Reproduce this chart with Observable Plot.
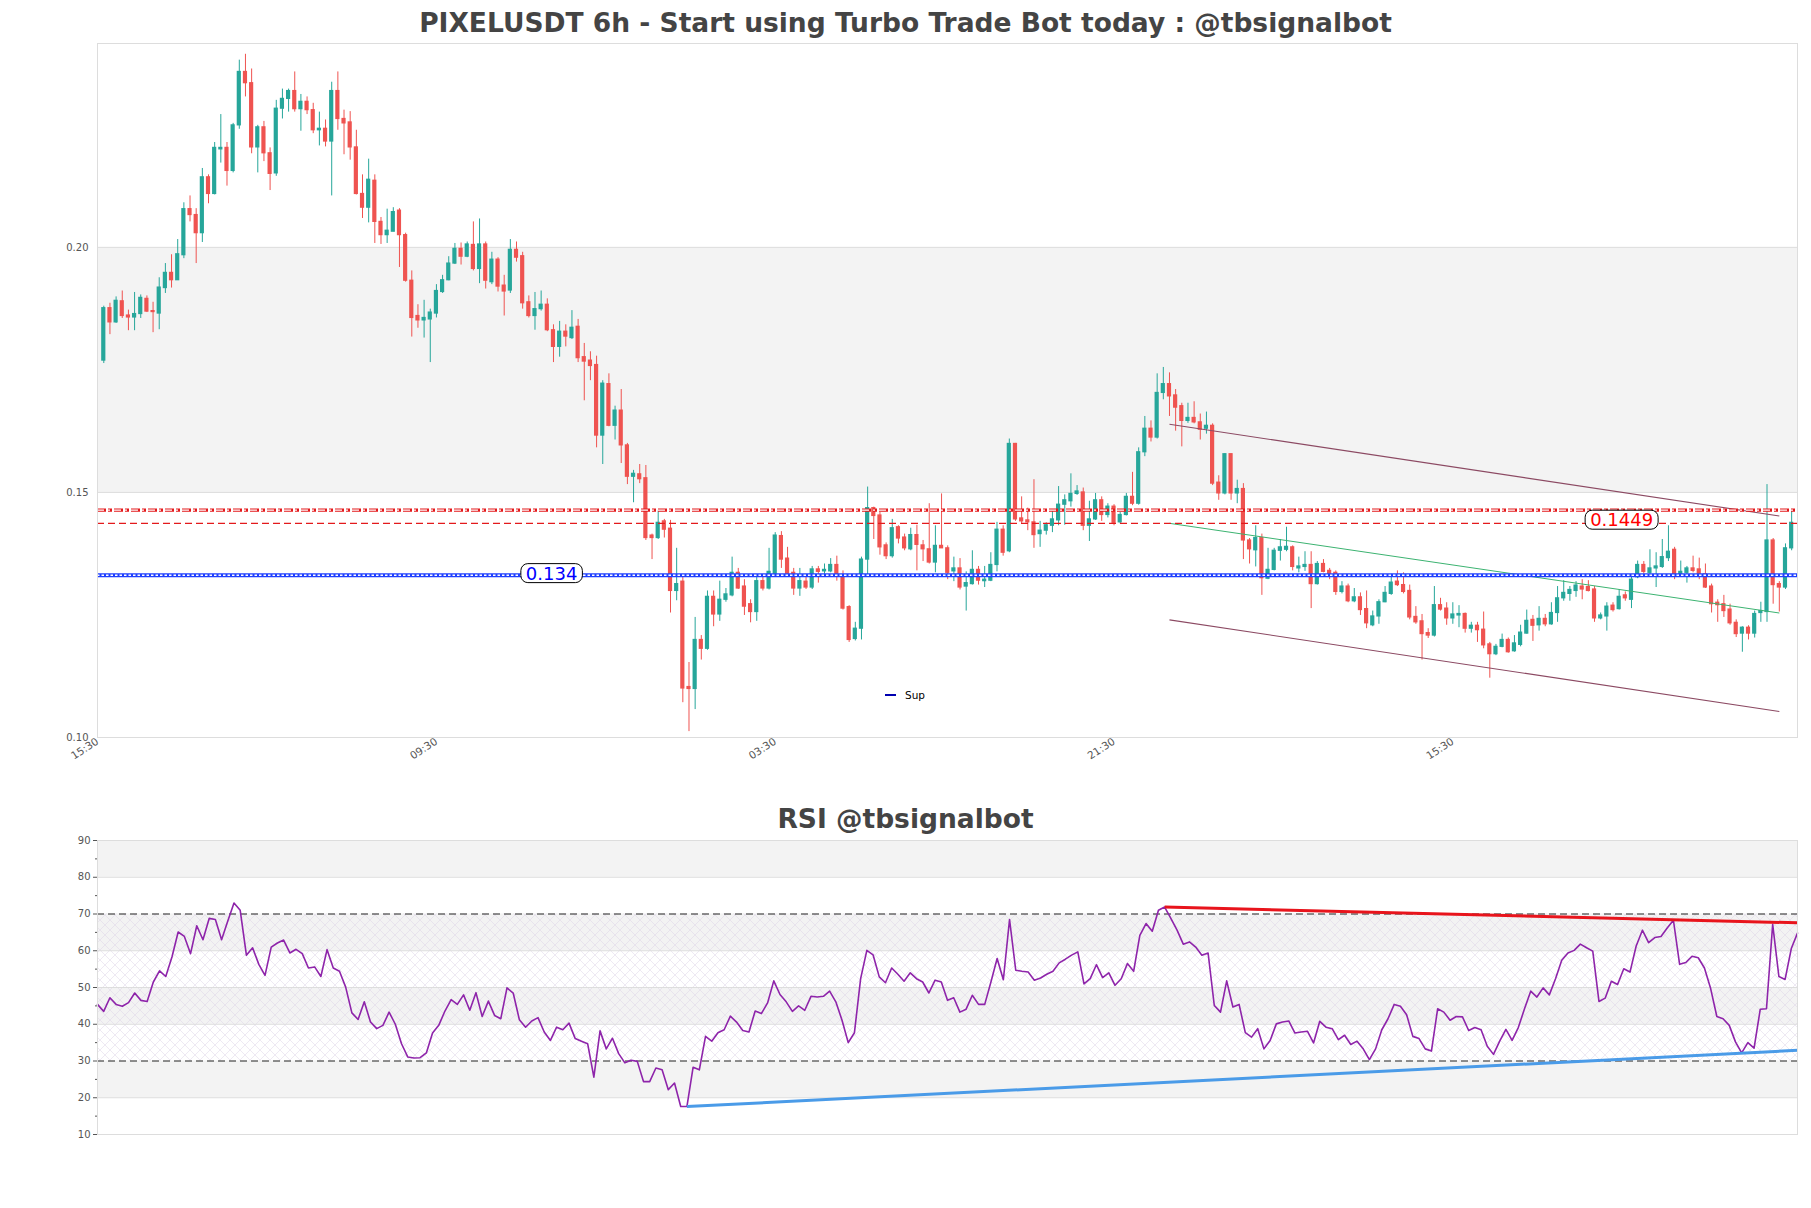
<!DOCTYPE html>
<html>
<head>
<meta charset="utf-8">
<script src="https://cdn.jsdelivr.net/npm/d3@7"></script>
<script src="https://cdn.jsdelivr.net/npm/@observablehq/plot@0.6"></script>
<style>
body{margin:0;background:#fff;}
#wrap{position:relative;width:1811px;height:1208px;overflow:hidden;background:#fff;font-family:"DejaVu Sans",sans-serif;}
.title{position:absolute;left:0;width:1811px;text-align:center;font-family:"DejaVu Sans",sans-serif;font-weight:bold;font-size:26.5px;line-height:31px;color:#444;white-space:nowrap;}
.chart{position:absolute;left:0;}
svg{overflow:visible;}
#legend{position:absolute;left:885px;top:689px;font-family:"DejaVu Sans",sans-serif;font-size:10.5px;color:#000;display:flex;align-items:center;}
#legend .sw{display:inline-block;width:11px;height:2px;background:#0000b0;margin-right:9px;}
</style>
</head>
<body>
<div id="wrap">
  <div class="title" id="t1" style="top:7px">PIXELUSDT 6h - Start using Turbo Trade Bot today : @tbsignalbot</div>
  <div class="chart" id="main" style="top:33px"></div>
  <div class="title" id="t2" style="top:803px">RSI @tbsignalbot</div>
  <div class="chart" id="rsi" style="top:830px"></div>
  <div id="legend"><span class="sw"></span><span>Sup</span></div>
</div>
<script>
// ---------------- data ----------------
const opens = [.1769,.1876,.1847,.1890,.1861,.1857,.1864,.1895,.1870,.1865,.1917,.1948,.1933,.1984,.2078,.2066,.2029,.2143,.2109,.2200,.2203,.2156,.2249,.2358,.2335,.2204,.2245,.2192,.2151,.2283,.2303,.2319,.2282,.2297,.2280,.2239,.2242,.2216,.2319,.2262,.2255,.2204,.2109,.2081,.2136,.2052,.2025,.2032,.2075,.2025,.1932,.1860,.1851,.1853,.1865,.1909,.1933,.1967,.1997,.1981,.2005,.1956,.2006,.1929,.1975,.1922,.1912,.1995,.1982,.1888,.1860,.1874,.1883,.1831,.1797,.1828,.1815,.1838,.1776,.1769,.1760,.1616,.1721,.1636,.1667,.1596,.1532,.1537,.1529,.1412,.1407,.1441,.1426,.1299,.1318,.1103,.1099,.1199,.1181,.1287,.1251,.1281,.1290,.1336,.1308,.1272,.1256,.1319,.1304,.1334,.1411,.1365,.1336,.1304,.1318,.1306,.1343,.1339,.1339,.1352,.1331,.1266,.1201,.1222,.1363,.1468,.1453,.1392,.1370,.1429,.1408,.1384,.1413,.1392,.1384,.1357,.1391,.1386,.1339,.1345,.1308,.1313,.1342,.1319,.1320,.1352,.1424,.1380,.1599,.1447,.1443,.1439,.1415,.1422,.1432,.1443,.1475,.1482,.1497,.1500,.1432,.1445,.1484,.1454,.1471,.1439,.1454,.1491,.1477,.1582,.1630,.1612,.1703,.1721,.1698,.1676,.1646,.1652,.1643,.1630,.1636,.1520,.1498,.1578,.1498,.1507,.1402,.1382,.1407,.1324,.1342,.1381,.1383,.1388,.1345,.1348,.1352,.1313,.1354,.1340,.1336,.1297,.1308,.1278,.1286,.1262,.1229,.1247,.1276,.1293,.1318,.1311,.1299,.1246,.1237,.1213,.1208,.1270,.1263,.1243,.1249,.1252,.1222,.1228,.1220,.1190,.1170,.1185,.1199,.1176,.1189,.1212,.1240,.1229,.1242,.1231,.1254,.1284,.1293,.1299,.1308,.1307,.1302,.1243,.1247,.1269,.1262,.1290,.1281,.1327,.1352,.1336,.1345,.1348,.1366,.1383,.1333,.1336,.1345,.1343,.1333,.1308,.1275,.1272,.1261,.1234,.1212,.1224,.1212,.1254,.1256,.1402,.1313,.1306,.1386];
const highs = [.1880,.1886,.1899,.1911,.1872,.1908,.1903,.1901,.1888,.1938,.1967,.1985,.2016,.2091,.2105,.2079,.2161,.2148,.2214,.2271,.2214,.2253,.2382,.2394,.2364,.2249,.2257,.2203,.2300,.2323,.2323,.2358,.2312,.2307,.2294,.2276,.2260,.2337,.2358,.2280,.2277,.2239,.2148,.2180,.2148,.2061,.2078,.2081,.2079,.2029,.1952,.1883,.1892,.1874,.1924,.1943,.1981,.2008,.2009,.2011,.2052,.2058,.2011,.1990,.1979,.1943,.2016,.2011,.1990,.1901,.1908,.1911,.1895,.1842,.1849,.1842,.1871,.1853,.1804,.1787,.1778,.1728,.1742,.1676,.1710,.1600,.1545,.1557,.1555,.1415,.1462,.1445,.1443,.1386,.1327,.1153,.1245,.1208,.1299,.1299,.1319,.1304,.1368,.1345,.1322,.1281,.1331,.1331,.1386,.1418,.1420,.1388,.1345,.1345,.1331,.1349,.1349,.1354,.1365,.1370,.1340,.1269,.1235,.1368,.1511,.1470,.1459,.1397,.1445,.1432,.1415,.1427,.1433,.1402,.1477,.1432,.1497,.1391,.1368,.1365,.1338,.1381,.1349,.1349,.1377,.1439,.1432,.1609,.1600,.1491,.1468,.1526,.1441,.1438,.1463,.1512,.1495,.1538,.1514,.1509,.1482,.1498,.1491,.1477,.1475,.1459,.1498,.1541,.1591,.1655,.1646,.1742,.1755,.1744,.1710,.1682,.1682,.1685,.1660,.1664,.1640,.1534,.1579,.1579,.1525,.1518,.1406,.1432,.1415,.1386,.1386,.1404,.1429,.1391,.1368,.1379,.1379,.1359,.1363,.1345,.1340,.1318,.1313,.1304,.1295,.1299,.1258,.1281,.1308,.1333,.1340,.1336,.1311,.1267,.1251,.1222,.1308,.1284,.1275,.1275,.1269,.1254,.1235,.1235,.1256,.1194,.1190,.1211,.1203,.1208,.1229,.1260,.1249,.1267,.1251,.1275,.1308,.1320,.1308,.1318,.1322,.1320,.1308,.1254,.1275,.1275,.1302,.1297,.1331,.1360,.1359,.1383,.1377,.1404,.1432,.1388,.1360,.1349,.1370,.1366,.1354,.1313,.1281,.1290,.1272,.1240,.1226,.1228,.1258,.1276,.1516,.1406,.1318,.1395,.1463];
const lows = [.1763,.1822,.1845,.1855,.1830,.1830,.1855,.1867,.1826,.1832,.1906,.1917,.1933,.1977,.2052,.1967,.2010,.2089,.2107,.2172,.2125,.2152,.2241,.2307,.2191,.2152,.2175,.2116,.2145,.2262,.2276,.2276,.2237,.2271,.2232,.2207,.2205,.2105,.2239,.2189,.2178,.2107,.2059,.2050,.2008,.2006,.2008,.2032,.1959,.1929,.1817,.1835,.1815,.1765,.1856,.1906,.1932,.1965,.1964,.1979,.1952,.1926,.1915,.1924,.1909,.1860,.1906,.1970,.1874,.1856,.1831,.1870,.1828,.1765,.1776,.1797,.1812,.1765,.1687,.1728,.1591,.1557,.1634,.1607,.1559,.1516,.1479,.1518,.1402,.1363,.1404,.1407,.1254,.1279,.1071,.1012,.1057,.1158,.1178,.1226,.1237,.1276,.1287,.1302,.1249,.1234,.1237,.1299,.1301,.1331,.1345,.1331,.1290,.1288,.1302,.1302,.1315,.1333,.1336,.1319,.1260,.1194,.1197,.1199,.1331,.1404,.1372,.1363,.1366,.1395,.1381,.1381,.1340,.1359,.1354,.1336,.1386,.1322,.1318,.1301,.1258,.1311,.1311,.1306,.1318,.1338,.1370,.1377,.1441,.1436,.1422,.1386,.1388,.1413,.1418,.1432,.1433,.1470,.1494,.1422,.1400,.1443,.1441,.1448,.1432,.1436,.1452,.1473,.1474,.1573,.1603,.1609,.1689,.1655,.1625,.1593,.1641,.1640,.1607,.1619,.1514,.1484,.1495,.1484,.1477,.1363,.1354,.1348,.1290,.1322,.1340,.1360,.1379,.1340,.1336,.1339,.1263,.1311,.1336,.1322,.1290,.1293,.1275,.1275,.1249,.1222,.1226,.1231,.1275,.1290,.1308,.1293,.1240,.1231,.1158,.1202,.1205,.1258,.1229,.1231,.1224,.1213,.1213,.1194,.1181,.1121,.1167,.1183,.1172,.1174,.1185,.1211,.1196,.1217,.1226,.1229,.1235,.1278,.1278,.1286,.1281,.1297,.1235,.1240,.1217,.1256,.1260,.1278,.1263,.1324,.1333,.1331,.1306,.1345,.1359,.1322,.1329,.1315,.1336,.1322,.1304,.1254,.1235,.1245,.1229,.1204,.1174,.1199,.1203,.1235,.1235,.1272,.1256,.1302,.1381];
const closes = [.1876,.1847,.1891,.1860,.1857,.1864,.1897,.1869,.1868,.1918,.1948,.1933,.1986,.2078,.2066,.2029,.2143,.2109,.2203,.2203,.2156,.2249,.2358,.2335,.2204,.2245,.2192,.2150,.2283,.2303,.2319,.2282,.2297,.2280,.2239,.2242,.2216,.2319,.2262,.2253,.2204,.2109,.2081,.2138,.2052,.2025,.2034,.2072,.2025,.1932,.1856,.1851,.1856,.1867,.1911,.1933,.1967,.1997,.1981,.2006,.1956,.2006,.1932,.1975,.1920,.1910,.1995,.1979,.1886,.1860,.1874,.1883,.1831,.1797,.1828,.1818,.1836,.1774,.1767,.1758,.1616,.1722,.1636,.1667,.1596,.1532,.1538,.1527,.1407,.1407,.1438,.1424,.1299,.1313,.1100,.1099,.1199,.1181,.1287,.1251,.1281,.1292,.1336,.1304,.1267,.1256,.1319,.1304,.1338,.1412,.1363,.1334,.1304,.1319,.1306,.1343,.1338,.1342,.1352,.1329,.1263,.1199,.1222,.1363,.1468,.1452,.1388,.1370,.1427,.1406,.1386,.1413,.1393,.1384,.1357,.1391,.1386,.1336,.1345,.1306,.1315,.1342,.1320,.1322,.1352,.1424,.1377,.1599,.1445,.1441,.1439,.1413,.1422,.1433,.1445,.1475,.1484,.1497,.1502,.1432,.1445,.1484,.1454,.1471,.1438,.1454,.1491,.1477,.1582,.1630,.1612,.1703,.1721,.1696,.1673,.1646,.1652,.1643,.1628,.1636,.1518,.1498,.1578,.1498,.1507,.1402,.1384,.1407,.1325,.1342,.1381,.1388,.1389,.1348,.1349,.1352,.1313,.1354,.1338,.1333,.1297,.1308,.1278,.1286,.1260,.1233,.1247,.1276,.1295,.1316,.1311,.1297,.1245,.1235,.1211,.1208,.1270,.1261,.1243,.1251,.1252,.1222,.1228,.1219,.1188,.1170,.1185,.1199,.1174,.1192,.1214,.1238,.1228,.1242,.1231,.1254,.1284,.1295,.1301,.1310,.1302,.1299,.1243,.1249,.1267,.1260,.1287,.1284,.1322,.1352,.1338,.1345,.1349,.1368,.1379,.1333,.1338,.1345,.1340,.1331,.1306,.1272,.1270,.1258,.1233,.1211,.1224,.1212,.1252,.1258,.1402,.1311,.1306,.1386,.1438];
const rsiValues = [45.4,43.5,47.2,45.4,44.9,45.9,48.5,46.5,46.2,51.5,54.5,53.0,58.3,65.1,63.9,59.2,66.8,63.0,68.8,68.5,63.0,68.1,73.0,71.0,58.8,60.8,56.3,53.3,61.0,62.1,62.9,59.4,60.4,59.2,55.3,55.6,53.0,60.3,55.3,54.4,50.1,43.1,41.3,46.1,40.6,38.8,39.7,43.3,40.0,34.7,31.1,30.8,30.9,32.2,37.6,39.7,43.6,46.7,45.4,48.0,43.8,48.6,42.1,46.3,42.4,41.5,49.9,48.5,41.2,39.2,40.9,41.8,37.9,35.6,39.2,38.5,40.3,36.1,35.4,34.7,25.6,38.2,33.3,36.2,32.0,29.5,30.2,29.9,24.4,24.4,28.1,27.6,22.2,24.0,17.6,17.6,28.3,27.6,36.7,35.4,37.7,38.5,42.2,40.6,38.3,37.9,43.6,42.9,45.8,51.8,48.1,46.1,43.5,45.0,43.8,47.6,47.4,47.6,49.0,46.1,41.1,35.0,37.7,52.4,60.1,58.9,52.9,51.3,55.3,53.6,51.7,54.0,52.4,51.5,48.5,52.0,51.5,46.5,47.2,43.3,44.1,47.9,45.4,45.4,51.5,57.9,52.1,68.5,54.7,54.4,54.2,52.0,52.6,53.6,54.4,56.7,57.7,58.8,59.7,51.0,52.4,56.2,52.7,54.0,50.6,52.4,56.5,54.4,64.2,67.4,65.3,71.0,71.9,68.8,65.6,61.8,62.4,61.0,58.8,59.4,45.1,43.3,51.8,44.7,45.4,37.7,36.5,38.8,33.3,35.6,40.1,40.6,40.9,37.6,37.9,38.1,34.9,40.8,39.2,38.8,35.8,37.0,34.5,35.4,33.3,30.4,33.3,38.5,41.5,45.4,44.9,42.6,36.7,36.1,33.3,32.7,44.2,43.3,41.1,42.1,42.0,38.3,39.1,38.5,34.0,31.8,35.4,38.6,35.6,39.1,44.2,49.0,47.4,49.9,48.0,52.4,57.4,59.4,60.1,61.8,60.8,59.9,46.2,47.1,51.7,50.8,55.1,54.2,61.3,65.6,62.2,63.6,63.9,66.2,68.3,56.3,56.8,58.5,58.1,55.3,49.7,42.1,41.5,39.7,35.2,32.2,35.0,33.5,44.1,44.2,67.2,53.0,52.2,60.6,64.8];

const xTickIdx = [-1, 54, 109, 164, 219];
const xTickLabels = ["15:30", "09:30", "03:30", "21:30", "15:30"];
const priceTicks = [0.10, 0.15, 0.20];
const priceBand = [0.15, 0.20];
const resistanceLevels = [0.1464, 0.1437];
const supportLevel = 0.1331;
const labelIdx = [72.7, 246.4];
const labelValues = [0.134, 0.1449];
const labelTexts = ["0.134", "0.1449"];
const labelColors = ["#0000ff", "#ff0000"];
const channelIdx = [173, 272];
const channelUpper = [0.1639, 0.1452];
const channelLower = [0.1240, 0.1053];
const channelMid = [0.1437, 0.1254];

const rsiTicks = [10, 20, 30, 40, 50, 60, 70, 80, 90];
const rsiMinorTicks = [15, 25, 35, 45, 55, 65, 75, 85];
const rsiGrayBands = [[80, 90], [60, 70], [40, 50], [20, 30]];
const rsiHatchBand = [[30, 70]];
const rsiGrid = [20, 40, 50, 60, 80];
const rsiLevels = [30, 70];
const rsiResIdx = [172, 274], rsiResVals = [71.9, 67.6];
const rsiSupIdx = [95, 274], rsiSupVals = [17.6, 32.9];

// ---------------- build ----------------
const UP = "#26a69a", DOWN = "#ef5350";
const candles = opens.map((o, i) => ({i, o, h: highs[i], l: lows[i], c: closes[i], up: closes[i] >= o}));
const xDomain = [-1.02, 274.95];

const mainSvg = Plot.plot({
  width: 1811, height: 749,
  marginLeft: 97, marginRight: 14, marginTop: 10, marginBottom: 45,
  x: {domain: xDomain, axis: null},
  y: {domain: [0.10, 0.2416], axis: null},
  color: {type: "identity"},
  style: {fontFamily: "DejaVu Sans, sans-serif", color: "#555", background: "transparent", overflow: "visible"},
  marks: [
    Plot.rect([priceBand], {x1: () => xDomain[0], x2: () => xDomain[1], y1: d => d[0], y2: d => d[1], fill: "#f3f3f3"}),
    Plot.ruleY(priceTicks.slice(1), {stroke: "#dddddd", strokeWidth: 1}),
    Plot.ruleX(candles, {x: "i", y1: "l", y2: "h", stroke: d => d.up ? UP : DOWN, strokeWidth: 1}),
    Plot.rect(candles, {x1: d => d.i - 0.34, x2: d => d.i + 0.34, y1: d => Math.min(d.o, d.c), y2: d => Math.max(d.o, d.c), fill: d => d.up ? UP : DOWN, insetTop: -0.6, insetBottom: -0.6}),
    Plot.link([0], {x1: () => channelIdx[0], x2: () => channelIdx[1], y1: () => channelUpper[0], y2: () => channelUpper[1], stroke: "#8c4a63", strokeWidth: 1.1}),
    Plot.link([0], {x1: () => channelIdx[0], x2: () => channelIdx[1], y1: () => channelLower[0], y2: () => channelLower[1], stroke: "#8c4a63", strokeWidth: 1.1}),
    Plot.link([0], {x1: () => channelIdx[0], x2: () => channelIdx[1], y1: () => channelMid[0], y2: () => channelMid[1], stroke: "#3cb371", strokeWidth: 1}),
    Plot.ruleY([resistanceLevels[0]], {stroke: "#e31a1c", strokeWidth: 3.4, strokeDasharray: "9,2,4,2"}),
    Plot.ruleY([resistanceLevels[0]], {stroke: "#ffffff", strokeWidth: 1.1, strokeDasharray: "7,4,2,4"}),
    Plot.ruleY([resistanceLevels[1]], {stroke: "#e31a1c", strokeWidth: 1.2, strokeDasharray: "7,4"}),
    Plot.ruleY([supportLevel], {stroke: "#1f3fff", strokeWidth: 4}),
    Plot.ruleY([supportLevel], {stroke: "#ffffff", strokeWidth: 1.3, strokeDasharray: "2.5,2"}),
    Plot.frame({stroke: "#dddddd"}),
    Plot.text(labelTexts, {x: (d, k) => labelIdx[k], y: (d, k) => labelValues[k], text: d => d, fill: (d, k) => labelColors[k], fontSize: 18, dy: 3, fontFamily: "DejaVu Sans, sans-serif"}),
    Plot.axisY({ticks: priceTicks, tickFormat: d => d.toFixed(2), tickSize: 0, tickPadding: 9, fontSize: 10, label: null}),
    Plot.axisX({ticks: xTickIdx, tickFormat: d => xTickLabels[xTickIdx.indexOf(d)], tickRotate: -33, tickSize: 0, tickPadding: 3, fontSize: 10.5, label: null})
  ]
});
document.getElementById("main").appendChild(mainSvg);

// rounded boxes behind the level labels
d3.select(mainSvg).selectAll('g[aria-label="text"] text').each(function() {
  const b = this.getBBox();
  const r = document.createElementNS("http://www.w3.org/2000/svg", "rect");
  r.setAttribute("x", b.x - 5);
  r.setAttribute("y", b.y + 1);
  r.setAttribute("width", b.width + 10);
  r.setAttribute("height", b.height - 2);
  r.setAttribute("rx", 7);
  r.setAttribute("fill", "#fff");
  r.setAttribute("stroke", "#000");
  r.setAttribute("stroke-width", 1);
  const t = this.getAttribute("transform");
  if (t) r.setAttribute("transform", t);
  this.parentNode.insertBefore(r, this);
});

const rsiData = rsiValues.map((v, j) => ({j, v}));
const rsiSvg = Plot.plot({
  width: 1811, height: 314,
  marginLeft: 97, marginRight: 14, marginTop: 10, marginBottom: 10,
  x: {domain: [0, rsiValues.length - 1], axis: null},
  y: {domain: [10, 90], axis: null},
  style: {fontFamily: "DejaVu Sans, sans-serif", color: "#555", background: "transparent", overflow: "visible"},
  marks: [
    Plot.rect(rsiGrayBands, {x1: () => 0, x2: () => rsiValues.length - 1, y1: d => d[0], y2: d => d[1], fill: "#f3f3f3"}),
    Plot.rect(rsiHatchBand, {x1: () => 0, x2: () => rsiValues.length - 1, y1: d => d[0], y2: d => d[1], fill: "url(#xhatch)"}),
    Plot.ruleY(rsiGrid, {stroke: "#dddddd"}),
    Plot.ruleY(rsiLevels, {stroke: "#222", strokeWidth: 1, strokeDasharray: "7,4"}),
    Plot.line(rsiData, {x: "j", y: "v", stroke: "#8e24aa", strokeWidth: 1.6}),
    Plot.link([0], {x1: () => rsiResIdx[0], x2: () => rsiResIdx[1], y1: () => rsiResVals[0], y2: () => rsiResVals[1], stroke: "#e8141c", strokeWidth: 3}),
    Plot.link([0], {x1: () => rsiSupIdx[0], x2: () => rsiSupIdx[1], y1: () => rsiSupVals[0], y2: () => rsiSupVals[1], stroke: "#4a9be8", strokeWidth: 3}),
    Plot.frame({stroke: "#dddddd"}),
    Plot.axisY({ticks: rsiTicks, tickSize: 4, tickPadding: 3, fontSize: 10, label: null}),
    Plot.axisY({ticks: rsiMinorTicks, tickSize: 2, tickFormat: () => "", label: null})
  ]
});
document.getElementById("rsi").appendChild(rsiSvg);
const defs = d3.select(rsiSvg).insert("defs", ":first-child");
const pat = defs.append("pattern").attr("id", "xhatch").attr("patternUnits", "userSpaceOnUse").attr("width", 10).attr("height", 10);
pat.append("path").attr("d", "M0,0L10,10M10,0L0,10").attr("stroke", "#ddd3e6").attr("stroke-width", 0.5).attr("fill", "none");
</script>
</body>
</html>
